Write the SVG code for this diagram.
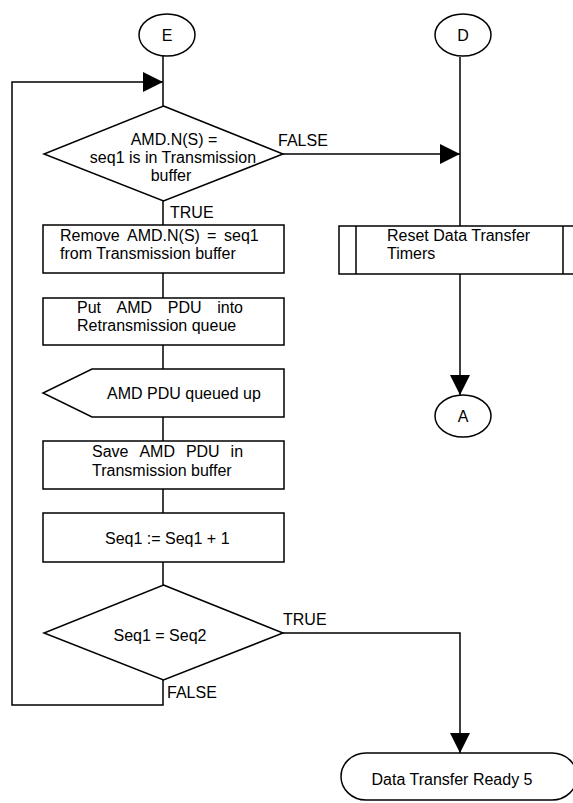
<svg xmlns="http://www.w3.org/2000/svg" width="573" height="803" viewBox="0 0 573 803">
<style>
.s{fill:#fff;stroke:#000;stroke-width:1.5}
.c{fill:none;stroke:#000;stroke-width:1.5}
text{font-family:"Liberation Sans",Arial,sans-serif;font-size:16px;fill:#000}
.m{text-anchor:middle}
</style>
<defs>
<marker id="ah" markerUnits="userSpaceOnUse" markerWidth="21" markerHeight="21" refX="20" refY="10" orient="auto">
<path d="M0,0 L20,10 L0,20 z" fill="#000"/>
</marker>
</defs>
<rect width="573" height="803" fill="#fff"/>
<g id="connectors">
<path class="c" d="M163,56 V106"/>
<path class="c" d="M163,201 V225"/>
<path class="c" d="M163,273 V298"/>
<path class="c" d="M163,345 V369"/>
<path class="c" d="M163,417 V441"/>
<path class="c" d="M163,489 V513"/>
<path class="c" d="M163,562 V585"/>
<path class="c" d="M163,680 V705 H12 V82 H163" marker-end="url(#ah)"/>
<path class="c" d="M283,154 H460" marker-end="url(#ah)"/>
<path class="c" d="M460,57 V226"/>
<path class="c" d="M460,274 V395" marker-end="url(#ah)"/>
<path class="c" d="M283,633 H460 V753" marker-end="url(#ah)"/>
<text x="278" y="146">FALSE</text>
<text x="170" y="218">TRUE</text>
<text x="283" y="625">TRUE</text>
<text x="167" y="698">FALSE</text>
</g>
<g id="E">
<ellipse class="s" cx="167" cy="35" rx="28" ry="21"/>
<text class="m" x="167" y="41">E</text>
</g>
<g id="D">
<ellipse class="s" cx="463" cy="35" rx="28" ry="21"/>
<text class="m" x="463" y="41">D</text>
</g>
<g id="dec1">
<polygon class="s" points="163.5,106 283,154 163.5,201 44,154"/>
<text class="m" x="174" y="145">AMD.N(S) =</text>
<text class="m" x="173" y="163">seq1 is in Transmission</text>
<text class="m" x="171" y="181">buffer</text>
</g>
<g id="remove">
<rect class="s" x="43" y="225" width="241" height="48"/>
<text y="241"><tspan x="60">Remove</tspan><tspan x="127">AMD.N(S)</tspan><tspan x="207">=</tspan><tspan x="224">seq1</tspan></text>
<text x="60" y="259">from Transmission buffer</text>
</g>
<g id="put">
<rect class="s" x="43" y="298" width="241" height="47"/>
<text y="313"><tspan x="77">Put</tspan><tspan x="116.6">AMD</tspan><tspan x="167.8">PDU</tspan><tspan x="217.2">into</tspan></text>
<text x="77" y="331">Retransmission queue</text>
</g>
<g id="queued">
<polygon class="s" points="92,369 284,369 284,417 92,417 43,393"/>
<text x="107" y="399">AMD PDU queued up</text>
</g>
<g id="save">
<rect class="s" x="43" y="441" width="241" height="48"/>
<text y="457"><tspan x="92">Save</tspan><tspan x="139.4">AMD</tspan><tspan x="185.9">PDU</tspan><tspan x="230.6">in</tspan></text>
<text x="92" y="476">Transmission buffer</text>
</g>
<g id="inc">
<rect class="s" x="43" y="513" width="241" height="49"/>
<text x="105" y="544">Seq1 := Seq1 + 1</text>
</g>
<g id="dec2">
<polygon class="s" points="163.5,585 283,633 163.5,680 44,633"/>
<text class="m" x="160" y="641">Seq1 = Seq2</text>
</g>
<g id="reset">
<rect class="s" x="339" y="226" width="242" height="48"/>
<path class="c" d="M356,226 V274 M563,226 V274"/>
<text x="387" y="241">Reset Data Transfer</text>
<text x="387" y="259">Timers</text>
</g>
<g id="A">
<ellipse class="s" cx="463" cy="416" rx="28" ry="21"/>
<text class="m" x="463" y="422">A</text>
</g>
<g id="ready">
<rect class="s" x="341" y="753" width="236" height="47" rx="25" ry="23.5"/>
<text class="m" x="452" y="785">Data Transfer Ready 5</text>
</g>
</svg>
